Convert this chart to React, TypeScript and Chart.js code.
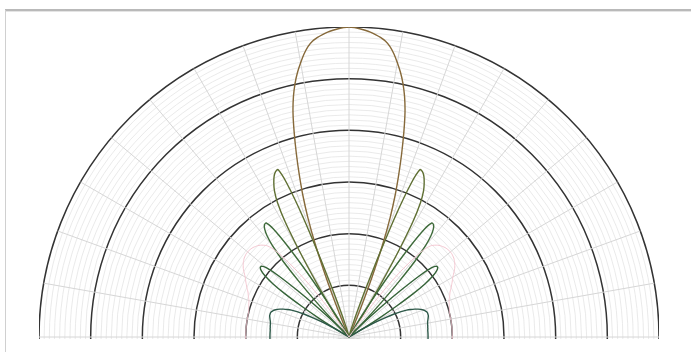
import React, { useEffect, useRef } from "react";
import { Chart, registerables } from "chart.js";

Chart.register(...registerables);

// Angular categories: 1 degree each, index 0 sits at the bottom (scale startAngle 180)
const ANGLE_LABELS: string[] = Array.from({ length: 360 }, (_, i) => `${(i + 180) % 360}°`);

// Radial scale (linear amplitude units, outer ring = 60)
const R_MIN = 0;
const R_MAX = 60;
const R_MINOR_STEP = 1;
const R_MAJOR_STEP = 10;
const ANGLE_LINE_STEP = 10;

// Lobe values, 1 degree apart, starting at the given off-axis angle (mirrored to both sides)
const MAIN_LOBE_START = 0;
const MAIN_LOBE = [60, 59.9, 59.7, 59.45, 59.15, 58.75, 58.3, 57.7, 56.8, 55.5, 53.9, 52.2, 50.2, 47.8, 44.8, 41, 37, 33, 29, 24.5, 19, 12.5, 6.5, 2.5, 0];

const LOBE1_START = 14;
const LOBE1 = [0, 0.8, 1.8, 3.2, 5.5, 9.5, 16, 25, 32, 35.2, 35, 34.3, 33.2, 31.8, 29.5, 25.5, 19, 12, 6.5, 3, 1, 0];

const LOBE2_START = 28;
const LOBE2 = [0, 1, 2.5, 5, 9, 15, 21, 25.5, 27.3, 27.2, 26.5, 25.2, 23, 19.5, 14.5, 9.5, 5.5, 2.8, 1, 0];

const LOBE3_START = 43;
const LOBE3 = [0, 1, 2.5, 5, 9, 13.5, 18, 20.8, 21.8, 21.8, 21.2, 20, 18, 15, 11, 7, 3.5, 1.2, 0];

const LOBE4_START = 58;
const LOBE4 = [0, 1.5, 3.5, 6, 8, 9.8, 11.2, 12.3, 13.1, 13.8, 14.4, 14.9, 15.3, 15.6, 15.8, 15.9, 15.9, 15.9, 15.8, 15.7, 15.6, 15.5, 15.45, 15.4, 15.4, 15.35, 15.35, 15.3, 15.3, 15.3, 15.3, 15.3, 15.3, 15.3, 15.3, 15.3, 15.3, 15.3, 15.3];

const PINK_START = 33;
const PINK = [0, 2, 5, 8.5, 12, 15.5, 18.5, 21, 22.8, 23.8, 24.3, 24.7, 25, 25.2, 25.4, 25.5, 25.6, 25.6, 25.6, 25.5, 25.4, 25.2, 25, 24.7, 24.4, 24, 23.6, 23.2, 22.9, 22.6, 22.3, 22, 21.7, 21.4, 21.2, 21, 20.8, 20.6, 20.5, 20.4, 20.3, 20.2, 20.1, 20, 20, 20, 20, 20, 20, 20, 20, 20, 20, 20, 20, 20, 20, 20, 20, 20, 20, 20, 20, 20];

const COLORS = {
  main: "#86693a",
  lobe1: "#5f6f33",
  lobe2: "#3e6a3a",
  lobe3: "#356338",
  lobe4: "#2d5848",
  pink: "#f3c6d0",
  major: "#333333",
  minor: "#e4e4e4",
  angle: "#d6d6d6",
};

function lobeSeries(start: number, values: number[]): (number | null)[] {
  const data: (number | null)[] = new Array(ANGLE_LABELS.length).fill(null);
  values.forEach((v, k) => {
    const deg = start + k;
    data[(180 + deg) % 360] = v;
    data[(180 - deg + 360) % 360] = v;
  });
  return data;
}

export default function App() {
  const canvasRef = useRef<HTMLCanvasElement | null>(null);

  useEffect(() => {
    const canvas = canvasRef.current;
    if (!canvas) return;
    const mk = (data: (number | null)[], color: string, width: number) => ({
      data,
      borderColor: color,
      backgroundColor: color,
      borderWidth: width,
      pointRadius: 0,
      pointHoverRadius: 0,
      fill: false,
      tension: 0.2,
      spanGaps: false,
    });
    const chart = new Chart(canvas, {
      type: "radar",
      data: {
        labels: ANGLE_LABELS,
        datasets: [
          mk(lobeSeries(PINK_START, PINK), COLORS.pink, 1),
          mk(lobeSeries(LOBE4_START, LOBE4), COLORS.lobe4, 1.4),
          mk(lobeSeries(LOBE3_START, LOBE3), COLORS.lobe3, 1.4),
          mk(lobeSeries(LOBE2_START, LOBE2), COLORS.lobe2, 1.4),
          mk(lobeSeries(LOBE1_START, LOBE1), COLORS.lobe1, 1.4),
          mk(lobeSeries(MAIN_LOBE_START, MAIN_LOBE), COLORS.main, 1.4),
        ],
      },
      options: {
        animation: false,
        responsive: false,
        devicePixelRatio: 1,
        layout: { padding: 0 },
        plugins: { legend: { display: false }, tooltip: { enabled: false } },
        elements: { point: { radius: 0 } },
        scales: {
          r: {
            min: R_MIN,
            max: R_MAX,
            startAngle: 180,
            ticks: { display: false, stepSize: R_MINOR_STEP, maxTicksLimit: 200 },
            pointLabels: { display: false },
            grid: {
              circular: true,
              color: (ctx: any) =>
                ctx.tick && Math.round(ctx.tick.value) % R_MAJOR_STEP === 0 ? COLORS.major : COLORS.minor,
              lineWidth: (ctx: any) =>
                ctx.tick && Math.round(ctx.tick.value) % R_MAJOR_STEP === 0 ? 1.5 : 0.8,
            },
            angleLines: {
              display: true,
              color: (ctx: any) => (ctx.index % ANGLE_LINE_STEP === 0 ? COLORS.angle : "rgba(0,0,0,0)"),
              lineWidth: (ctx: any) => (ctx.index % ANGLE_LINE_STEP === 0 ? 1 : 0),
            },
          },
        },
      },
    } as any);
    return () => chart.destroy();
  }, []);

  return (
    <div
      style={{
        position: "fixed",
        left: 0,
        top: 0,
        width: 691,
        height: 352,
        background: "#ffffff",
        overflow: "hidden",
      }}
    >
      <div style={{ position: "absolute", left: 5, top: 9, width: 686, height: 2, background: "#b9b9b9" }} />
      <div style={{ position: "absolute", left: 5, top: 11, width: 686, height: 1, background: "#e4e4e4" }} />
      <div style={{ position: "absolute", left: 5, top: 10, width: 1, height: 342, background: "#d0d0d0" }} />
      <div style={{ position: "absolute", left: 39, top: 27, width: 620, height: 312, overflow: "hidden" }}>
        <canvas ref={canvasRef} width={620} height={620} style={{ display: "block", width: 620, height: 620 }} />
      </div>
    </div>
  );
}
